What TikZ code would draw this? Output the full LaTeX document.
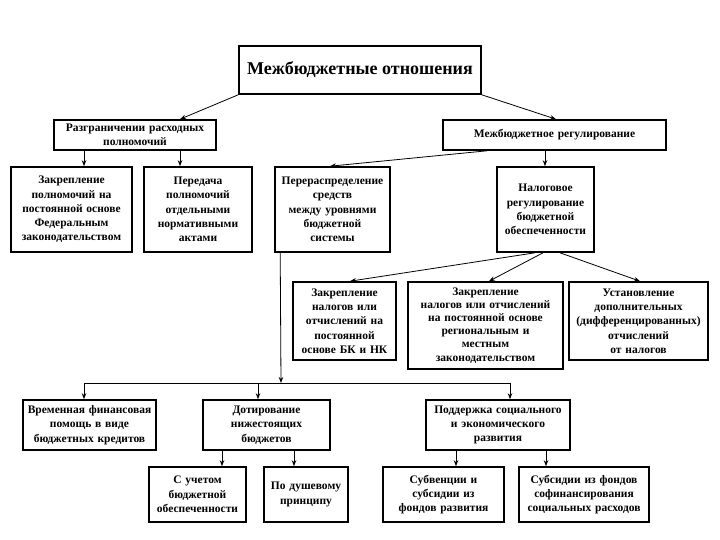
\documentclass[tikz,border=0pt]{standalone}
\usepackage{fontspec}
\setmainfont{Liberation Serif}
\usetikzlibrary{arrows.meta,calc}
\begin{document}
\begin{tikzpicture}[x=1pt,y=-1pt,
  box/.style={draw=black,line width=1.6pt,align=center,inner sep=0pt,
    font=\bfseries\fontsize{11.5}{14.3}\selectfont},
  arr/.style={draw=black,line width=0.8pt,-{Stealth[length=6pt,width=4.5pt]}},
  ln/.style={draw=black,line width=0.8pt}]
\useasboundingbox (0,0) rectangle (720,540);
% helper: box by corners
\newcommand{\bx}[6]{\node[box,minimum width={#4-#2},minimum height={#5-#3},text width={#4-#2-4}] (#1) at ({(#2+#4)/2},{(#3+#5)/2}) {#6};}
\node[box,minimum width=242,minimum height=48,font=\bfseries\fontsize{18}{21}\selectfont] (top) at (360,70) {Межбюджетные отношения};
\bx{A}{54}{120}{216}{150}{Разграничении расходных\\полномочий}
\bx{B}{443}{120}{666}{150}{Межбюджетное регулирование}
\bx{C1}{11}{167}{132}{252}{Закрепление\\полномочий на\\постоянной основе\\Федеральным\\законодательством}
\bx{C2}{144}{167}{252}{252}{Передача\\полномочий\\отдельными\\нормативными\\актами}
\bx{C3}{275}{167}{390}{252}{Перераспределение\\средств\\между уровнями\\бюджетной\\системы}
\bx{C4}{497}{167}{594}{252}{Налоговое\\регулирование\\бюджетной\\обеспеченности}
\bx{D1}{293}{282}{396}{360}{Закрепление\\налогов или\\отчислений на\\постоянной\\основе БК и НК}
\node[box,minimum width=155,minimum height=87,text width=151,font=\bfseries\fontsize{11.5}{13.1}\selectfont] (D2) at (485.5,325.5) {Закрепление\\налогов или отчислений\\на постоянной основе\\региональным и\\местным\\законодательством};
\bx{D3}{569}{282}{708}{360}{Установление\\дополнительных\\(дифференцированных)\\отчислений\\от налогов}
\bx{E1}{23}{400}{156}{450}{Временная финансовая\\помощь в виде\\бюджетных кредитов}
\bx{E2}{203}{400}{330}{450}{Дотирование\\нижестоящих\\бюджетов}
\bx{E3}{426}{400}{570}{450}{Поддержка социального\\и экономического\\развития}
\bx{F1}{149}{467}{246}{522}{С учетом\\бюджетной\\обеспеченности}
\bx{F2}{264}{467}{348}{522}{По душевому\\принципу}
\bx{F3}{383}{467}{504}{522}{Субвенции и\\субсидии из\\фондов развития}
\node[box,minimum width=114,minimum height=55,text width=130] (F4) at (584,494.5) {Субсидии из фондов\\софинансирования\\социальных расходов};
% connectors
\draw[arr] (top.south west) -- ([xshift=45pt]A.north);
\draw[arr] (top.south east) -- ([xshift=1.5pt]B.north);
\draw[arr] ([xshift=-51pt]A.south) -- ([xshift=-51pt]A.south |- C1.north);
\draw[arr] ([xshift=45pt]A.south) -- ([xshift=45pt]A.south |- C2.north);
\draw[arr] ([xshift=-67.5pt]B.south) -- ([xshift=-2.5pt]C3.north);
\draw[arr] ([xshift=-9.5pt]B.south) -- ([xshift=-9.5pt]B.south |- C4.north);
\draw[arr] ([xshift=-10.5pt]C4.south) -- ([xshift=5.5pt]D1.north);
\draw[arr] ([xshift=-2.5pt]C4.south) -- ([xshift=3.5pt]D2.north);
\draw[arr] ([xshift=14.5pt]C4.south) -- ([xshift=1.5pt]D3.north);
\coordinate (bus) at (281,383);
\draw[arr] ([xshift=6pt]C3.south west) -- (bus);
\draw[ln] ([xshift=-5.5pt]E1.north |- bus) -- ([xshift=12pt]E3.north |- bus);
\draw[arr] ([xshift=-5.5pt]E1.north |- bus) -- ([xshift=-5.5pt]E1.north);
\draw[arr] ([xshift=-8.5pt]E2.north |- bus) -- ([xshift=-8.5pt]E2.north);
\draw[arr] ([xshift=12pt]E3.north |- bus) -- ([xshift=12pt]E3.north);
\draw[arr] ([xshift=-44.5pt]E2.south) -- ([xshift=24.5pt]F1.north);
\draw[arr] ([xshift=27.5pt]E2.south) -- ([xshift=-12pt]F2.north);
\draw[arr] ([xshift=-42pt]E3.south) -- ([xshift=12.5pt]F3.north);
\draw[arr] ([xshift=48pt]E3.south) -- ([xshift=-38pt]F4.north);
\end{tikzpicture}
\end{document}
